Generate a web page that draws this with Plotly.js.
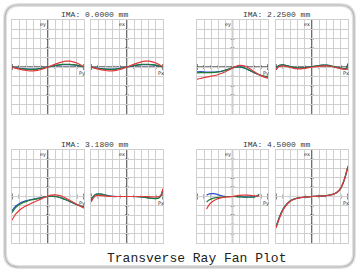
<!DOCTYPE html>
<html>
<head>
<meta charset="utf-8">
<script src="https://cdn.plot.ly/plotly-3.0.1.min.js"></script>
<style>html,body{margin:0;padding:0;background:#fff;}#plot{width:360px;height:273px;}</style>
</head>
<body>
<div id="plot"></div>
<script>
// ---------- data (pupil coordinate vs. ray error, in grid divisions) ----------
var titles = ["IMA: 0.0000 mm", "IMA: 2.2500 mm", "IMA: 3.1800 mm", "IMA: 4.5000 mm"];
var mainTitle = "Transverse Ray Fan Plot";
var xTickVals = [-1, -0.8, -0.6, -0.4, -0.2, 0.2, 0.4, 0.6, 0.8, 1];
var yTickVals = [-4, -3, -2, -1, 1, 2, 3, 4];

var pupil = [-1,-0.9,-0.8,-0.7,-0.6,-0.5,-0.4,-0.3,-0.2,-0.1,0,0.1,0.2,0.3,0.4,0.5,0.6,0.7,0.8,0.9,1];

// IMA 0.0000 mm, tangential (ey)
var f1eyBlue  = [0,-0.07,-0.13,-0.18,-0.21,-0.23,-0.22,-0.19,-0.14,-0.07,0,0.07,0.14,0.2,0.24,0.26,0.25,0.22,0.17,0.09,0];
var f1eyGreen = [0,-0.08,-0.15,-0.2,-0.24,-0.26,-0.25,-0.22,-0.16,-0.08,0,0.08,0.16,0.22,0.27,0.29,0.28,0.25,0.19,0.1,0];
var f1eyRed   = [0,-0.12,-0.22,-0.31,-0.37,-0.41,-0.41,-0.36,-0.27,-0.14,0,0.15,0.3,0.44,0.55,0.62,0.62,0.55,0.42,0.23,0.02];
// IMA 0.0000 mm, sagittal (ex)
var f1exBlue  = [0,-0.07,-0.13,-0.18,-0.21,-0.23,-0.22,-0.19,-0.14,-0.07,0,0.07,0.14,0.2,0.24,0.26,0.25,0.22,0.17,0.09,0];
var f1exGreen = [0,-0.08,-0.15,-0.2,-0.24,-0.26,-0.25,-0.22,-0.16,-0.08,0,0.08,0.16,0.22,0.27,0.29,0.28,0.25,0.19,0.1,0];
var f1exRed   = [0,-0.12,-0.22,-0.31,-0.37,-0.41,-0.41,-0.36,-0.27,-0.14,0,0.15,0.3,0.44,0.55,0.62,0.62,0.55,0.42,0.23,0.02];

// IMA 2.2500 mm, tangential (ey)
var f2eyBlue  = [-0.52,-0.5,-0.52,-0.54,-0.55,-0.54,-0.5,-0.43,-0.34,-0.22,-0.1,-0.02,0.01,-0.07,-0.21,-0.39,-0.57,-0.74,-0.89,-1.0,-1.06];
var f2eyGreen = [-0.62,-0.6,-0.6,-0.6,-0.6,-0.58,-0.53,-0.45,-0.35,-0.22,-0.1,-0.02,0.0,-0.08,-0.22,-0.4,-0.58,-0.75,-0.9,-1.0,-1.05];
var f2eyRed   = [-1.3,-1.22,-1.12,-1.05,-0.98,-0.9,-0.8,-0.66,-0.5,-0.32,-0.12,0.08,0.18,0.14,0.0,-0.22,-0.48,-0.72,-0.92,-1.08,-1.18];
// IMA 2.2500 mm, sagittal (ex)
var f2exX     = [-1,-0.95,-0.9,-0.8,-0.7,-0.6,-0.5,-0.4,-0.3,-0.2,-0.1,0,0.1,0.2,0.3,0.4,0.5,0.6,0.7,0.8,0.9,0.95,1];
var f2exBlue  = [-0.22,0.07,0.19,0.22,0.15,0.05,-0.05,-0.1,-0.1,-0.05,0,0.05,0.1,0.15,0.2,0.2,0.15,0.05,-0.05,-0.12,-0.19,-0.13,0.34];
var f2exGreen = [-0.25,0.05,0.18,0.22,0.15,0.05,-0.05,-0.1,-0.1,-0.05,0,0.05,0.1,0.15,0.2,0.2,0.15,0.05,-0.05,-0.12,-0.2,-0.15,0.38];
var f2exRed   = [-0.3,-0.05,0.08,0.12,0.05,-0.05,-0.15,-0.2,-0.2,-0.15,-0.08,-0.02,0.04,0.08,0.12,0.12,0.08,0.0,-0.1,-0.18,-0.25,-0.25,-0.05];

// IMA 3.1800 mm, tangential (ey)
var f3eyBlue  = [-1.55,-1.05,-0.78,-0.58,-0.45,-0.35,-0.28,-0.21,-0.13,-0.05,0.0,0.03,0.0,-0.08,-0.2,-0.35,-0.52,-0.69,-0.86,-1.0,-1.12];
var f3eyGreen = [-1.75,-1.2,-0.9,-0.68,-0.52,-0.4,-0.32,-0.25,-0.15,-0.06,0.0,0.03,0.0,-0.08,-0.2,-0.35,-0.52,-0.7,-0.88,-1.02,-1.15];
var f3eyRed   = [-2.55,-1.9,-1.5,-1.2,-0.98,-0.8,-0.62,-0.45,-0.28,-0.1,0.05,0.15,0.18,0.12,0.0,-0.18,-0.4,-0.62,-0.85,-1.05,-1.25];
// IMA 3.1800 mm, sagittal (ex)
var f3exX     = [-1,-0.95,-0.9,-0.85,-0.8,-0.7,-0.6,-0.5,-0.4,-0.2,0,0.2,0.4,0.5,0.6,0.7,0.8,0.85,0.9,0.95,1];
var f3exBlue  = [-0.45,-0.08,0.14,0.24,0.27,0.24,0.15,0.06,0.01,0,0,0,-0.04,-0.09,-0.14,-0.19,-0.21,-0.19,-0.1,0.15,0.8];
var f3exGreen = [-0.5,-0.1,0.15,0.25,0.28,0.25,0.15,0.05,0.0,0,0,0,-0.05,-0.1,-0.15,-0.2,-0.22,-0.2,-0.1,0.15,0.8];
var f3exRed   = [-0.6,-0.25,0.0,0.1,0.12,0.1,0.05,0.0,0.0,0,0,0,0,0,-0.02,-0.05,-0.05,-0.03,0.02,0.22,0.85];

// IMA 4.5000 mm, tangential (ey) - vignetted pupil
var f4eyX     = [-0.73,-0.65,-0.55,-0.45,-0.35,-0.25,-0.15,0,0.1,0.2,0.3,0.4,0.5,0.6,0.7,0.75];
var f4eyBlue  = [0.15,0.28,0.3,0.25,0.12,0.03,0.0,0,0,-0.02,-0.03,-0.05,-0.05,-0.03,0.08,0.25];
var f4eyGreen = [-0.6,-0.35,-0.2,-0.12,-0.08,-0.05,-0.02,0,-0.02,-0.05,-0.06,-0.08,-0.08,-0.06,0.05,0.2];
var f4eyRed   = [-1.35,-0.85,-0.5,-0.3,-0.18,-0.1,-0.05,0,0.08,0.12,0.15,0.15,0.12,0.08,0.05,0.05];
// IMA 4.5000 mm, sagittal (ex)
var f4exBlue  = [-3.3,-2.15,-1.33,-0.8,-0.45,-0.27,-0.17,-0.11,-0.06,-0.03,0,0.02,0.04,0.06,0.1,0.16,0.25,0.46,0.88,1.8,3.2];
var f4exGreen = [-3.3,-2.2,-1.35,-0.82,-0.46,-0.28,-0.18,-0.11,-0.07,-0.03,0,0.02,0.04,0.06,0.1,0.16,0.25,0.46,0.89,1.84,3.26];
var f4exRed   = [-3.4,-2.28,-1.42,-0.86,-0.5,-0.3,-0.19,-0.12,-0.07,-0.03,0,0.02,0.04,0.06,0.1,0.16,0.26,0.48,0.92,1.88,3.3];

var panels = [
  {x: pupil, b: f1eyBlue, g: f1eyGreen, r: f1eyRed, v: "ey", h: "Py"},
  {x: pupil, b: f1exBlue, g: f1exGreen, r: f1exRed, v: "ex", h: "Px"},
  {x: pupil, b: f2eyBlue, g: f2eyGreen, r: f2eyRed, v: "ey", h: "Py"},
  {x: f2exX, b: f2exBlue, g: f2exGreen, r: f2exRed, v: "ex", h: "Px"},
  {x: pupil, b: f3eyBlue, g: f3eyGreen, r: f3eyRed, v: "ey", h: "Py"},
  {x: f3exX, b: f3exBlue, g: f3exGreen, r: f3exRed, v: "ex", h: "Px"},
  {x: f4eyX, b: f4eyBlue, g: f4eyGreen, r: f4eyRed, v: "ey", h: "Py"},
  {x: pupil, b: f4exBlue, g: f4exGreen, r: f4exRed, v: "ex", h: "Px"}
];

// ---------- layout geometry (pixels) ----------
var W = 360, H = 273;
var colPx = [[12, 84], [91, 163], [197, 268], [276, 348]];
var rowPx = [[20, 114], [150, 243]];
var titlePos = [[94, 14], [276, 14], [94, 144], [276, 144]];
var colors = {b: "#2a4fd0", g: "#1d7a35", r: "#e03a3a"};

var data = [], shapes = [], annotations = [];
var layout = {
  width: W, height: H,
  margin: {l: 0, r: 0, t: 0, b: 0},
  paper_bgcolor: "#ffffff", plot_bgcolor: "#ffffff",
  showlegend: false
};

// frame
function roundRect(l, t, r, b, rad) {
  var X = function (p) { return (p / W).toFixed(5); };
  var Y = function (p) { return (1 - p / H).toFixed(5); };
  return "M" + X(l + rad) + "," + Y(t) + " L" + X(r - rad) + "," + Y(t) +
    " Q" + X(r) + "," + Y(t) + " " + X(r) + "," + Y(t + rad) +
    " L" + X(r) + "," + Y(b - rad) + " Q" + X(r) + "," + Y(b) + " " + X(r - rad) + "," + Y(b) +
    " L" + X(l + rad) + "," + Y(b) + " Q" + X(l) + "," + Y(b) + " " + X(l) + "," + Y(b - rad) +
    " L" + X(l) + "," + Y(t + rad) + " Q" + X(l) + "," + Y(t) + " " + X(l + rad) + "," + Y(t) + " Z";
}
shapes.push({type: "path", xref: "paper", yref: "paper", path: roundRect(5, 5, 354, 267, 14),
  line: {color: "#e2e2e2", width: 4}, layer: "below"});
shapes.push({type: "path", xref: "paper", yref: "paper", path: roundRect(5, 5, 354, 267, 14),
  line: {color: "#b4b4b4", width: 1.2}, layer: "below"});

panels.forEach(function (p, i) {
  var n = i + 1;
  var col = colPx[i % 4], row = rowPx[Math.floor(i / 4)];
  var xs = n === 1 ? "" : String(n);
  var xid = "x" + xs, yid = "y" + xs;
  layout["xaxis" + xs] = {
    domain: [col[0] / W, col[1] / W], anchor: yid, range: [-1, 1],
    tick0: -1, dtick: 0.2, showgrid: true, gridcolor: "#cfcfcf", gridwidth: 1,
    showline: true, mirror: true, linecolor: "#cfcfcf", linewidth: 1,
    zeroline: false, showticklabels: false, ticks: "", fixedrange: true
  };
  layout["yaxis" + xs] = {
    domain: [1 - row[1] / H, 1 - row[0] / H], anchor: xid, range: [-5, 5],
    tick0: -5, dtick: 1, showgrid: true, gridcolor: "#cfcfcf", gridwidth: 1,
    showline: true, mirror: true, linecolor: "#cfcfcf", linewidth: 1,
    zeroline: false, showticklabels: false, ticks: "", fixedrange: true
  };
  // central axes
  shapes.push({type: "line", xref: xid, yref: yid, x0: -1, x1: 1, y0: 0, y1: 0,
    line: {color: "#111", width: 1.2}, layer: "below"});
  shapes.push({type: "line", xref: xid, yref: yid, x0: 0, x1: 0, y0: -5, y1: 5,
    line: {color: "#111", width: 1.2}, layer: "below"});
  xTickVals.forEach(function (v) {
    var big = Math.abs(v) === 1;
    shapes.push({type: "line", xref: xid, yref: yid, x0: v, x1: v,
      ysizemode: "pixel", yanchor: 0, y0: big ? -3 : -2, y1: big ? 3 : 2,
      line: {color: "#111", width: 1}, layer: "below"});
  });
  yTickVals.forEach(function (v) {
    shapes.push({type: "line", xref: xid, yref: yid, y0: v, y1: v,
      xsizemode: "pixel", xanchor: 0, x0: -2, x1: 2,
      line: {color: "#111", width: 1}, layer: "below"});
  });
  // axis labels
  annotations.push({xref: xid, yref: yid, x: 0, y: 5, xanchor: "right", yanchor: "top",
    xshift: 0, yshift: 1, text: p.v, showarrow: false,
    font: {family: "DejaVu Sans", size: 5, color: "#333"}});
  annotations.push({xref: xid, yref: yid, x: 1, y: 0, xanchor: "center", yanchor: "top",
    xshift: -2, yshift: -1, text: p.h, showarrow: false,
    font: {family: "DejaVu Sans", size: 5, color: "#333"}});
  // curves: blue, green, red
  [["b", p.b], ["g", p.g], ["r", p.r]].forEach(function (s) {
    data.push({type: "scatter", mode: "lines", x: p.x, y: s[1], xaxis: xid, yaxis: yid,
      line: {color: colors[s[0]], width: 1.2, shape: "spline", smoothing: 0.8},
      hoverinfo: "skip", cliponaxis: true});
  });
});

titles.forEach(function (t, i) {
  annotations.push({xref: "paper", yref: "paper", x: titlePos[i][0] / W, y: 1 - titlePos[i][1] / H,
    xanchor: "center", yanchor: "middle", text: t, showarrow: false,
    font: {family: "Liberation Mono", size: 8, color: "#3a3a3a"}});
});
annotations.push({xref: "paper", yref: "paper", x: 196.5 / W, y: 1 - 258 / H,
  xanchor: "center", yanchor: "middle", text: mainTitle, showarrow: false,
  font: {family: "Liberation Mono", size: 13, color: "#222"}});

layout.shapes = shapes;
layout.annotations = annotations;

Plotly.newPlot("plot", data, layout, {staticPlot: true, displayModeBar: false});
</script>
</body>
</html>
